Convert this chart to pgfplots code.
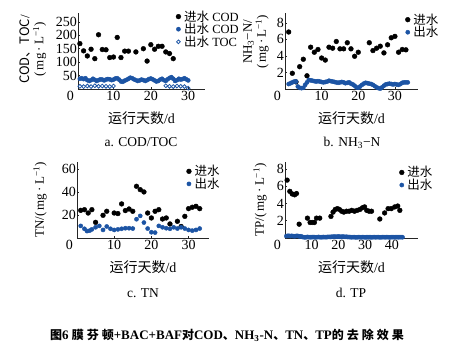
\documentclass[border=0pt]{standalone}
\usepackage{fontspec}
\setmainfont{Liberation Serif}
\newfontfamily\cjk{Noto Sans CJK SC}
\usepackage{pgfplots}
\pgfplotsset{compat=1.18}
\newcommand{\zh}[1]{{\cjk #1}}
\definecolor{blueP}{RGB}{28,84,164}
\pgfplotsset{
  panel/.style={
    scale only axis,
    anchor=south west,
    height=76pt,
    axis x line*=bottom, axis y line*=left,
    axis line style={line width=0.8pt, black!85},
    tick align=inside, major tick length=2pt,
    tick style={line width=0.6pt, black!85},
    tick label style={font=\fontsize{14}{14}\selectfont},
    /pgf/number format/assume math mode=true,
    yticklabel style={inner sep=1pt},
    xticklabel style={inner sep=1.5pt},
    xlabel={\zh{运行天数}/d},
    xlabel style={font=\fontsize{14}{14}\selectfont, at={(axis description cs:0.5,0)}, anchor=center, yshift=-29pt},
    ylabel style={font=\fontsize{13}{14}\selectfont, align=center, anchor=center},
    clip=false,
    legend cell align=left,
    legend image code/.code={\draw[##1] plot coordinates {(0pt,0pt)};},
    legend style={draw=none, fill=none, font=\fontsize{12.5}{12.5}\selectfont, inner sep=0pt, outer sep=0pt, row sep=0pt,
      nodes={inner sep=0.3pt}, anchor=north west, /tikz/every odd column/.append style={column sep=3pt}},
  },
  infl/.style={only marks, mark=*, mark size=2.4pt, black, mark options={fill=black}},
  effl/.style={only marks, mark=*, mark size=2.1pt, blueP, mark options={fill=blueP}},
  efflo/.style={only marks, mark=o, mark size=1.9pt, blueP, mark options={line width=0.8pt}},
}
\begin{document}
\begin{tikzpicture}
\useasboundingbox (0,0) rectangle (454pt,352pt);
% ---------------- a
\begin{axis}[panel, at={(78pt,263pt)}, width=127pt,
  xmin=0.5, xmax=34.5, ymin=0, ymax=283,
  xtick={10,20,30}, ytick={50,100,150,200,250},
  ylabel={\zh{COD、TOC}/\\(\,mg\,·\,L\textsuperscript{−1})},
  ylabel style={at={(axis description cs:0,0.52)}, yshift=45pt},
  legend style={at={(0.772,1.035)}}]
\addplot[infl] coordinates {(1,169)(2,142)(3,123)(4,148)(5,113)(6,202)(7,147)(8,146)(9,117)(10,119)(11,192)(12,117)(13,141)(14,141)(16,138)(18,150)(19,104)(20,165)(21,148)(22,159)(23,159)(24,138)(25,132)(26,113)};
\addlegendentry{\zh{进水} COD}
\addplot[effl] coordinates {(1,38)(1.5,40)(2,37)(2.5,40)(3,33)(3.5,30)(4,33)(4.5,38)(5,34)(5.5,30)(6,33)(6.5,36)(7,35)(7.5,32)(8,35)(8.5,37)(9,36)(9.5,33)(10,35)(10.5,39)(11,40)(11.5,35)(12,28)(12.5,27)(13,31)(13.5,34)(14,38)(14.5,42)(15,40)(15.5,36)(16,33)(16.5,30)(17,32)(17.5,35)(18,33)(18.5,30)(19,33)(19.5,37)(20,39)(20.5,36)(21,32)(21.5,28)(22,30)(22.5,35)(23,38)(23.5,33)(24,30)(24.5,36)(25,41)(25.5,44)(26,38)(26.5,30)(27,33)(27.5,38)(28,35)(28.5,37)(29,40)(29.5,36)(30,32)};
\addlegendentry{\zh{出水} COD}
\addplot[efflo] coordinates {(1,10)(2,9)(3,11)(4,9)(5,12)(6,10)(7,11)(8,10)(9,9)(10,11)(24,12)(25,10)(26,9)(27,11)(28,10)(29,9)(30,3)};
\addlegendentry{\zh{出水} TOC}
\node[font=\fontsize{14}{14}\selectfont, anchor=north east, inner sep=0pt] at (rel axis cs:0,0) [xshift=-4pt, yshift=-2pt] {0};
\end{axis}
% ---------------- b
\begin{axis}[panel, at={(285pt,263pt)}, width=133pt,
  xmin=0, xmax=36.3, ymin=0, ymax=9.2,
  xtick={10,20,30}, ytick={2,4,6,8},
  ylabel={NH\textsubscript{3}−N/\\(\,mg\,·\,L\textsuperscript{−1})},
  ylabel style={at={(axis description cs:0,0.62)}, yshift=29pt},
  legend style={at={(0.905,0.995)}}]
\addplot[infl] coordinates {(1,6.9)(2,1.9)(3,0.86)(4,2.7)(5,3.6)(6,1.6)(7,5.06)(8,4.45)(9,4.78)(10,3.75)(11,3.5)(12,5.06)(13,4.94)(14,5.75)(15,4.86)(16,4.86)(17,5.6)(18,4.86)(19,3.96)(20,4.45)(23,5.6)(24,4.65)(25,4.94)(26,5.18)(27,4.37)(28,5.35)(29,6.2)(30,6.37)(31,4.45)(32,4.78)(33,4.74)};
\addlegendentry{\zh{进水}}
\addplot[effl] coordinates {(1,0.6)(1.5,0.7)(2,0.8)(2.5,0.9)(3,0.9)(3.5,0.3)(4,0.15)(4.5,0.1)(5,0.15)(5.5,0.5)(6,0.8)(6.5,1.1)(7,1.05)(7.5,1.0)(8,0.95)(8.5,0.9)(9,0.95)(9.5,0.9)(10,0.85)(10.5,0.8)(11,0.85)(11.5,0.9)(12,1.0)(12.5,0.95)(13,0.9)(13.5,0.85)(14,0.8)(14.5,0.75)(15,0.8)(15.5,0.85)(16,0.8)(16.5,0.7)(17,0.75)(17.5,0.8)(18,0.65)(18.5,0.55)(19,0.4)(19.5,0.2)(20,0.15)(20.5,0.3)(21,0.5)(21.5,0.65)(22,0.75)(22.5,0.7)(23,0.65)(23.5,0.6)(24,0.5)(24.5,0.35)(25,0.2)(25.5,0.1)(26,0.05)(26.5,0.2)(27,0.4)(27.5,0.55)(28,0.6)(28.5,0.65)(29,0.6)(29.5,0.55)(30,0.6)(30.5,0.55)(31,0.5)(31.5,0.6)(32,0.75)(32.5,0.8)(33,0.8)(33.5,0.8)};
\addlegendentry{\zh{出水}}
\node[font=\fontsize{14}{14}\selectfont, anchor=north east, inner sep=0pt] at (rel axis cs:0,0) [xshift=-4pt, yshift=-2pt] {0};
\end{axis}
% ---------------- c
\begin{axis}[panel, at={(77pt,114pt)}, width=132pt,
  xmin=0, xmax=35.5, ymin=0, ymax=66,
  xtick={10,20,30}, ytick={20,40,60},
  ylabel={TN/(\,mg\,·\,L\textsuperscript{−1})},
  ylabel style={at={(axis description cs:0,0.5)}, yshift=37pt},
  legend style={at={(0.83,0.96)}}]
\addplot[infl] coordinates {(1,24)(2,24.6)(3,21.7)(4,24.6)(5,13.6)(7,19.7)(8,23.2)(10,21.7)(11,21.2)(12,29.6)(13,23.8)(14,25.2)(15,23.2)(16,44.9)(17,42)(18,40)(19,21.7)(20,17.4)(21,23.2)(22,24.6)(23,16.5)(24,17.4)(25,12.2)(27,14.5)(28,10)(29,18.8)(30,25.5)(31,26.7)(32,27.5)(33,25.5)};
\addlegendentry{\zh{进水}}
\addplot[effl] coordinates {(1,10.5)(2,8)(2.7,6)(3.4,6.4)(4,7.5)(5,9.3)(6,10.5)(7,7)(8,10)(9,8)(10,7)(11,7.5)(12,8)(13,8.5)(14,8.5)(15,8.2)(16,16.3)(17,19.2)(18,13.4)(19,8.2)(20,5)(21,4.7)(22,10.5)(23,9.3)(24,8.5)(25,8)(26,9.3)(27,8.2)(28,9.3)(29,8.2)(30,7)(31,6.4)(32,7)(33,8.2)};
\addlegendentry{\zh{出水}}
\node[font=\fontsize{14}{14}\selectfont, anchor=north east, inner sep=0pt] at (rel axis cs:0,0) [xshift=-4pt, yshift=-2pt] {0};
\end{axis}
% ---------------- d
\begin{axis}[panel, at={(285pt,114pt)}, width=133pt,
  xmin=0, xmax=49.8, ymin=0, ymax=8.8,
  xtick={10,20,30,40}, ytick={2,4,6,8},
  ylabel={TP/(\,mg\,·\,L\textsuperscript{−1})},
  ylabel style={at={(axis description cs:0,0.5)}, yshift=25pt},
  legend style={at={(0.86,0.945)}}]
\addplot[infl] coordinates {(0.8,6.7)(1.8,5.4)(2.7,5.1)(3.6,5.0)(4.3,5.15)(5.3,1.6)(8.4,2.3)(9.4,1.8)(10.2,1.8)(11,1.8)(11.8,2.3)(13,2.3)(17.2,2.5)(18,3.0)(18.8,3.3)(19.6,3.4)(20.4,3.3)(21.2,3.1)(22,3.0)(23,3.1)(24,3.1)(25,3.2)(26,3.1)(27,3.2)(28,3.3)(29,3.5)(29.8,3.6)(30.6,3.2)(31.5,3.1)(32.4,3.1)(35.5,2.2)(37.3,2.9)(38.6,3.4)(39.8,3.4)(41.1,3.6)(42.2,3.7)(43,3.2)};
\addlegendentry{\zh{进水}}
\addplot[effl] coordinates {(0.5,0.22)(1,0.25)(1.5,0.25)(2,0.22)(2.5,0.25)(3,0.22)(3.5,0.2)(4,0.22)(4.5,0.25)(5,0.22)(5.5,0.18)(6,0.2)(6.5,0.12)(7,0.1)(7.5,0.08)(8,0.1)(8.5,0.12)(9,0.1)(9.5,0.09)(10,0.1)(10.5,0.11)(11,0.1)(11.5,0.08)(12,0.1)(12.5,0.12)(13,0.1)(13.5,0.09)(14,0.1)(14.5,0.11)(15,0.1)(15.5,0.1)(16,0.12)(16.5,0.13)(17,0.12)(17.5,0.14)(18,0.15)(18.5,0.16)(19,0.14)(19.5,0.15)(20,0.17)(20.5,0.15)(21,0.14)(21.5,0.16)(22,0.15)(22.5,0.13)(23,0.14)(23.5,0.12)(24,0.11)(24.5,0.1)(25,0.09)(25.5,0.1)(26,0.1)(26.5,0.08)(27,0.09)(27.5,0.1)(28,0.1)(28.5,0.09)(29,0.1)(29.5,0.1)(30,0.08)(30.5,0.09)(31,0.1)(31.5,0.1)(32,0.09)(32.5,0.08)(33,0.1)(33.5,0.1)(34,0.09)(34.5,0.1)(35,0.1)(35.5,0.08)(36,0.09)(36.5,0.1)(37,0.1)(37.5,0.09)(38,0.1)(38.5,0.1)(39,0.08)(39.5,0.09)(40,0.1)(40.5,0.1)(41,0.09)(41.5,0.1)(42,0.1)(42.5,0.09)(43,0.1)(43.5,0.1)(44,0.09)};
\addlegendentry{\zh{出水}}
\node[font=\fontsize{14}{14}\selectfont, anchor=north east, inner sep=0pt] at (rel axis cs:0,0) [xshift=-4pt, yshift=-2pt] {0};
\end{axis}
% captions
\node[font=\fontsize{13.5}{14}\selectfont] at (141pt,210pt) {a. COD/TOC};
\node[font=\fontsize{13.5}{14}\selectfont] at (352pt,209pt) {b. NH\textsubscript{3}−N};
\node[font=\fontsize{13.5}{14}\selectfont] at (143pt,59pt) {c. TN};
\node[font=\fontsize{13.5}{14}\selectfont] at (351pt,59pt) {d. TP};
\node[font=\fontsize{13}{13}\selectfont\bfseries] at (227pt,17pt)
  {\zh{\fontsize{12}{12}\selectfont\bfseries\addfontfeatures{LetterSpace=25}图}6\ \zh{\fontsize{12}{12}\selectfont\bfseries\addfontfeatures{LetterSpace=25}膜芬顿}+BAC+BAF\zh{\fontsize{12}{12}\selectfont\bfseries\addfontfeatures{LetterSpace=25}对}COD\zh{\fontsize{12}{12}\selectfont\bfseries 、}NH\textsubscript{3}-N\zh{\fontsize{12}{12}\selectfont\bfseries 、}TN\zh{\fontsize{12}{12}\selectfont\bfseries 、}TP\zh{\fontsize{12}{12}\selectfont\bfseries\addfontfeatures{LetterSpace=25}的去除效果}};
\end{tikzpicture}
\end{document}
